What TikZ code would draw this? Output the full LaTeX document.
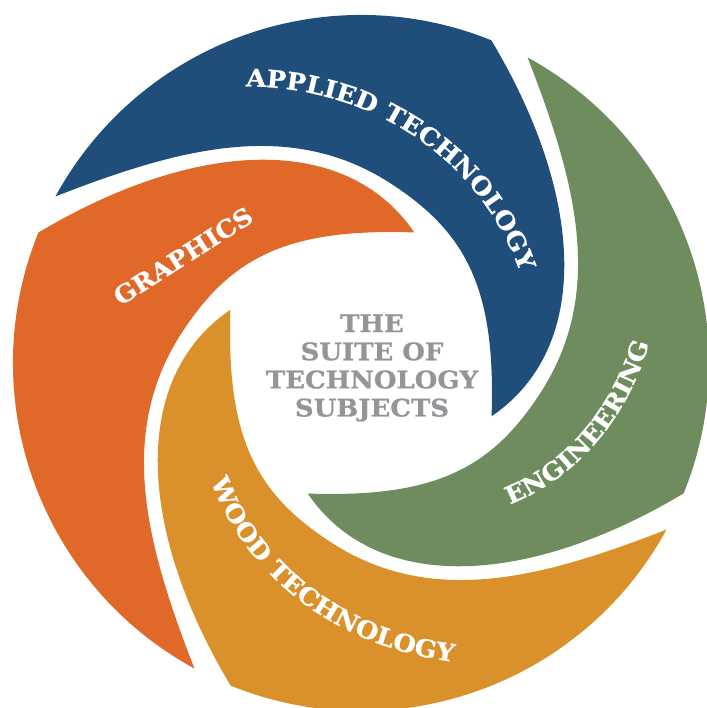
\documentclass[tikz,border=0pt]{standalone}
\usepackage{fontspec}
\setmainfont{DejaVu Serif}[FakeStretch=1.07,BoldFeatures={FakeBold=0.8}]
\usetikzlibrary{decorations.text}
\definecolor{techblue}{HTML}{1F4E7A}
\definecolor{techgreen}{HTML}{6E8C5E}
\definecolor{techyellow}{HTML}{DA912C}
\definecolor{techorange}{HTML}{E06828}
\definecolor{techgrey}{HTML}{939598}
\newcommand{\armfont}{\bfseries\fontsize{6.9}{8}\selectfont}
\tikzset{
  armlabel/.style={decorate,decoration={text along path,text align=center,text color=white,text={|\armfont|#1}}}
}

\begin{document}
\begin{tikzpicture}
\useasboundingbox (-3.61,-3.45) rectangle (3.45,3.63);
% the four arms of the swirl, each a quarter turn from the last
\foreach \col [count=\k from 0] in {techblue,techgreen,techyellow,techorange}{
  \fill[\col,rotate=-90*\k] (151.4:3.48) arc[start angle=151.4,end angle=68,radius=3.48]
    .. controls (2.24,1.66) and (2.31,0.15) .. (-22.2:1.41)
    .. controls (1.35,0.75) and (1.05,1.31) .. (0.29,1.80)
    .. controls (-0.72,2.45) and (-1.84,2.14) .. (151.4:3.48) -- cycle;
}
% labels
\begin{scope}[shift={(-0.04,0.03)}]
\path[armlabel=APPLIED TECHNOLOGY] plot[domain=118:18,samples=60,variable=\t] (\t:{1.83+0.38*((\t-24)/87)+0.72*((\t-24)/87)^2});
\path[armlabel=ENGINEERING] plot[domain=-52:9.5,samples=40,variable=\t] (\t:{2.09+0.01766*(\t+44)});
\path[armlabel=WOOD TECHNOLOGY] plot[domain=-151:-66.5,samples=60,variable=\t] (\t:{1.90+0.83*((\t+140)/69)+0.47*((\t+140)/69)^2});
\node[rotate=32.5,text=white,font=\armfont] (graphics) at (-1.74,1.04) {GRAPHICS};
\node[align=center,text=techgrey,font=\armfont] (suite) at (0.15,-0.08) {THE\\SUITE OF\\TECHNOLOGY\\SUBJECTS};
\end{scope}
\end{tikzpicture}
\end{document}
